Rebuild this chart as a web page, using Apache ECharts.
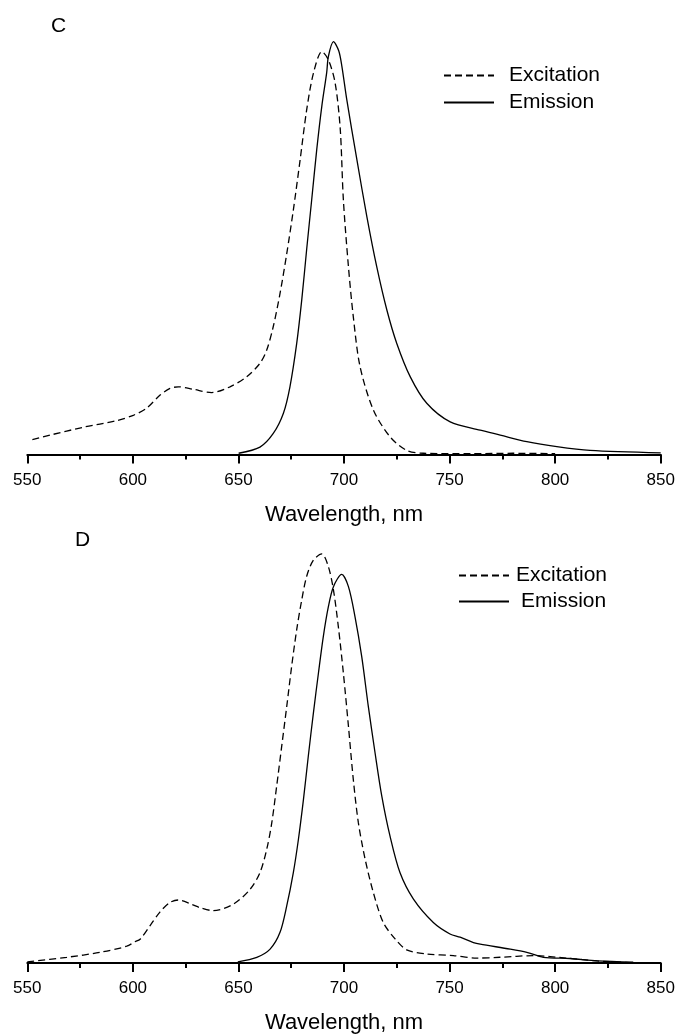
<!DOCTYPE html>
<html>
<head>
<meta charset="utf-8">
<script src="https://cdn.jsdelivr.net/npm/echarts@6/dist/echarts.min.js"></script>
<style>
html,body{margin:0;padding:0;background:#fff;}
#chart{width:679px;height:1035px;}
</style>
</head>
<body>
<div id="chart"></div>
<script>
// ---- Panel C ----
const cExWl  = [552.4,560.8,576.5,592.3,600.2,606.5,612.9,617.6,621.5,628.6,637.3,646,653.9,660.2,663.4,666.5,669.7,672.9,676,679.2,682.3,685.5,689.5,692.6,695.8,698.2,699.7,702.1,704.4,707.6,713.9,721.8,729.7,737.6,760,780,800];
const cExVal = [3.6,4.7,6.6,8.2,9.5,11.2,14.4,16.0,16.4,15.8,15.0,16.4,18.8,22.1,25.3,31.0,39.0,48.7,59.2,71.3,83.4,92.3,97.6,95.6,90.0,79.0,61.7,45.5,33.4,21.3,10.8,4.3,1.0,0.3,0.2,0.3,0.2];
const cEmWl  = [650.1,660.2,666.5,671.3,674.4,677.6,680,682.3,684.7,687.1,689.5,691.8,692.6,695,697.5,699,701.3,706.1,710.8,715.5,720.3,725,731.4,739.2,750.3,764.5,774,786.6,800.8,816.5,850];
const cEmVal = [0.3,1.8,5.1,10.0,16.4,26.9,37.5,49.6,61.7,73.9,84.4,92.5,96.4,100,97.8,94,86,71.4,57.7,45.5,35.0,26.9,18.8,12.4,7.9,5.9,4.7,3.1,1.9,1.0,0.4];
// ---- Panel D ----
const dExWl  = [550,568.7,584.4,597.1,601,603.4,608.1,612.9,617.6,621.5,628,632,638,647.6,655.5,660.2,663.4,665.8,668.1,670.5,672.9,675.2,677.6,680,682.3,685.5,689.5,692.6,695,697.3,699.7,702.1,704.4,706.8,710,713.9,718.6,724.2,729.7,739.2,751.8,762.9,773.9,789.7,805.5,820,835];
const dExVal = [0.3,1.4,2.6,4.1,5.2,5.8,9.1,12.5,14.8,15.4,14.3,13.5,12.8,14.4,18.0,22.1,27.8,34.3,43.2,53.0,62.8,72.5,81.5,88.8,94.5,98.5,100,96.9,91.2,82.3,70.9,57.9,44.9,34.3,25.4,17.2,9.9,5.9,3.2,2.2,1.8,1.2,1.4,1.8,1.2,0.5,0.1];
const dEmWl  = [649.7,658.7,665,669.7,672.9,676,678.4,680.8,683.1,685.5,687.9,690.2,692.6,695,698.9,702.1,705.2,708.4,711.5,714.7,717.9,721.8,726.5,732.9,742.3,750.2,755,761.3,764.5,778.7,786.6,794.4,807,820,837];
const dEmVal = [0.3,1.4,3.4,7.5,14.0,22.1,30.2,40.0,50.6,61.1,70.9,79.8,87.1,92.0,95.0,92.0,84.7,74.9,62.8,51.4,40.8,31.0,22.1,15.6,9.9,7.1,6.3,5.0,4.6,3.4,2.6,1.4,1.1,0.5,0.2];

const xTicks = [550,600,650,700,750,800,850];
const panelLabels = ['C','D'];
const seriesNames = ['Excitation','Emission'];
const axisTitle = 'Wavelength, nm';

const FONT = '"Liberation Sans", Arial, Helvetica, sans-serif';
const zip = (a,b) => a.map((v,i)=>[v,b[i]]);

function xAxisCfg(gi){
  return {
    gridIndex: gi, type:'value', min: xTicks[0], max: xTicks[xTicks.length-1], interval: 50,
    axisLine:{show:true, onZero:false, lineStyle:{color:'#000', width:2}},
    axisTick:{show:true, length:9, lineStyle:{color:'#000', width:2}},
    minorTick:{show:true, splitNumber:2, length:5, lineStyle:{color:'#000', width:2}},
    splitLine:{show:false}, minorSplitLine:{show:false},
    axisLabel:{color:'#000', fontSize:17, fontFamily:FONT, margin:17},
    name: axisTitle, nameLocation:'middle', nameGap:49,
    nameTextStyle:{color:'#000', fontSize:22, fontFamily:FONT}
  };
}
function yAxisCfg(gi){
  return {gridIndex:gi, type:'value', min:0, max:105, show:false, splitLine:{show:false}};
}
const dash = [7,4];
function ser(name, gi, data, dashed){
  return {
    name, type:'line', xAxisIndex:gi, yAxisIndex:gi, data, symbol:'none', smooth:0.3,
    clip:false, silent:true,
    lineStyle:{color:'#000', width:1.3, type: dashed ? dash : 'solid'},
    itemStyle:{color:'#000'}
  };
}
const legendItemStyle = {color:'rgba(0,0,0,0)', borderColor:'rgba(0,0,0,0)', borderWidth:0};

const chart = echarts.init(document.getElementById('chart'), null, {renderer:'canvas'});
chart.setOption({
  animation:false,
  backgroundColor:'#fff',
  title:[
    {text:panelLabels[0], left:46, top:11, textStyle:{fontSize:21, fontWeight:'normal', color:'#000', fontFamily:FONT}},
    {text:panelLabels[1], left:70, top:525, textStyle:{fontSize:21, fontWeight:'normal', color:'#000', fontFamily:FONT}}
  ],
  legend:[
    {orient:'vertical', left:443, top:65, padding:0, itemWidth:50, itemHeight:14, itemGap:6,
     itemStyle:legendItemStyle,
     data:[{name:seriesNames[0]},{name:seriesNames[1]}],
     textStyle:{fontSize:21, fontFamily:FONT, color:'#000', padding:[0,0,0,10], lineHeight:21}},
    {orient:'vertical', left:458, top:565, padding:0, itemWidth:50, itemHeight:14, itemGap:5,
     itemStyle:legendItemStyle,
     data:[{name:seriesNames[0], textStyle:{padding:[0,0,0,2]}},{name:seriesNames[1], textStyle:{padding:[0,0,0,7]}}],
     textStyle:{fontSize:21, fontFamily:FONT, color:'#000', lineHeight:21}}
  ],
  grid:[
    {left:27.3, right:18.3, top:21, height:433.5},
    {left:27.3, right:18.3, top:533.5, height:430.5}
  ],
  xAxis:[xAxisCfg(0), xAxisCfg(1)],
  yAxis:[yAxisCfg(0), yAxisCfg(1)],
  series:[
    ser(seriesNames[0], 0, zip(cExWl,cExVal), true),
    ser(seriesNames[1], 0, zip(cEmWl,cEmVal), false),
    ser(seriesNames[0], 1, zip(dExWl,dExVal), true),
    ser(seriesNames[1], 1, zip(dEmWl,dEmVal), false)
  ]
});
</script>
</body>
</html>
